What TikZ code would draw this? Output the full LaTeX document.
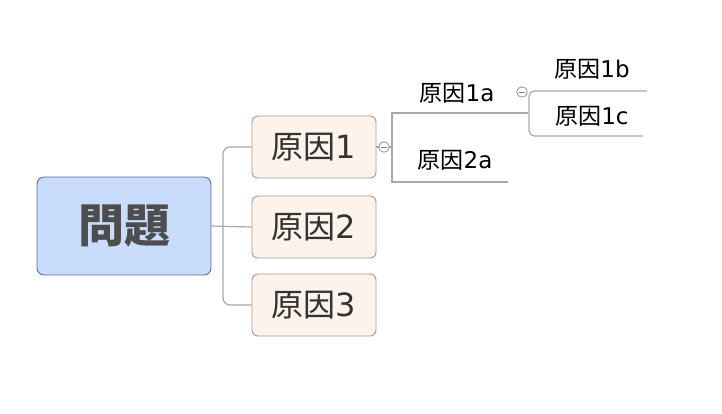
\documentclass[tikz,border=0pt]{standalone}
\usepackage{fontspec}
\newfontfamily\jp{Noto Sans CJK JP}
\newfontfamily\latf{DejaVu Sans}
\newcommand\lat[1]{{\latf #1}}
\definecolor{rootfill}{HTML}{C9DCFB}
\definecolor{rootdraw}{HTML}{5A6F96}
\definecolor{causefill}{HTML}{FDF3EA}
\definecolor{causedraw}{HTML}{A09A94}
\definecolor{linec}{HTML}{A8A8A8}
\definecolor{roottext}{HTML}{4D4D4D}
\definecolor{causetext}{HTML}{333333}
\tikzset{
  rootbox/.style={draw=rootdraw, fill=rootfill, rounded corners=7pt, line width=0.9pt,
    minimum width=174pt, minimum height=98pt, inner sep=0pt,
    font=\jp\bfseries\fontsize{46}{50}\selectfont, text=roottext},
  causebox/.style={draw=causedraw, fill=causefill, rounded corners=6pt, line width=0.9pt,
    minimum width=124pt, minimum height=62pt, inner sep=0pt,
    font=\jp\fontsize{32}{36}\selectfont, text=causetext},
  subtext/.style={inner sep=0pt, font=\jp\fontsize{23}{26}\selectfont, text=black},
  conn/.style={draw=linec, line width=1.2pt},
  toggle/.style={circle, draw=linec!80!black, fill=white, line width=0.7pt,
    minimum size=10.5pt, inner sep=0pt,
    path picture={\draw[linec!80!black, line width=0.8pt] ([xshift=-2.6pt]path picture bounding box.center) -- ([xshift=2.6pt]path picture bounding box.center);}},
}
\begin{document}
\begin{tikzpicture}[x=1pt, y=-1pt]
\useasboundingbox (0,0) rectangle (722,413);
% nodes
\node[rootbox] (root) at (124,226) {問題};
\node[causebox] (c1) at (314,147) {原因\lat{1}};
\node[causebox] (c2) at (314,227) {原因\lat{2}};
\node[causebox] (c3) at (314,305) {原因\lat{3}};
\node[subtext] (s1a) at (457,93) {原因\lat{1a}};
\node[subtext] (s2a) at (455,160) {原因\lat{2a}};
\node[subtext] (s1b) at (592,69) {原因\lat{1b}};
\node[subtext] (s1c) at (592,116) {原因\lat{1c}};
% branch coordinates
\coordinate (trunk) at (223,227);
\coordinate (j1) at (392,147);
\coordinate (u1a) at (528,113);
\coordinate (u2a) at (508,182);
\coordinate (j2) at (529,113);
\coordinate (u1b) at (647,91);
\coordinate (u1c) at (643,136);
% root to causes
\draw[conn] (root.east) -- (c2.west);
\draw[conn, rounded corners=7pt] (c1.west) -| (trunk) |- (c3.west);
% cause 1 to sub causes
\draw[conn] (c1.east) -- (j1);
\draw[conn] (j1) |- (u1a);
\draw[conn] (j1) |- (u2a);
% 1a to 1b, 1c
\draw[conn, rounded corners=6pt] (u1b) -| (j2) |- (u1c);
% toggles
\node[toggle] (t1) at (384,147) {};
\node[toggle] (t2) at (522,92) {};
\end{tikzpicture}
\end{document}
